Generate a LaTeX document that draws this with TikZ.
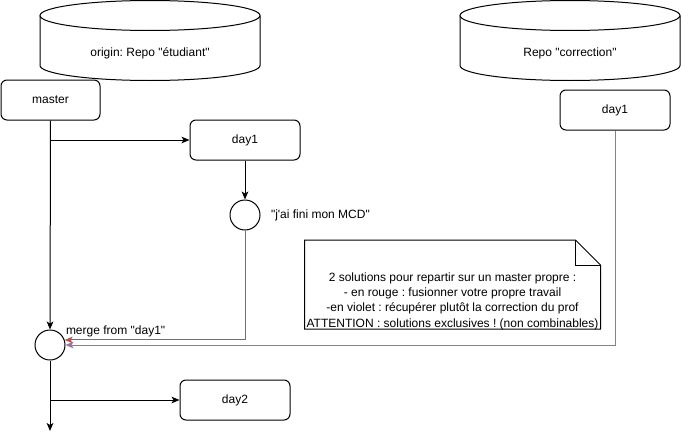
\documentclass[tikz,border=0pt]{standalone}
\usepackage{fontspec}
\setmainfont{Liberation Sans}[Ligatures=TeXOff]
\usetikzlibrary{arrows.meta,positioning}
\frenchspacing

\definecolor{rouge}{HTML}{B85450}
\definecolor{violet}{HTML}{9673A6}

\tikzset{every picture/.style={line width=0.75pt}}
\tikzset{
  branch/.style={draw, rounded corners=4.5pt, minimum width=82.5pt, minimum height=30pt, inner sep=0pt},
  commit/.style={draw, circle, minimum size=22.5pt, inner sep=0pt},
  flow/.style={-{Stealth[length=6pt,width=5pt,inset=1.5pt]}},
  txt/.style={inner sep=0.75pt, font=\fontsize{9}{11.5}\selectfont},
}

\begin{document}
\begin{tikzpicture}[x=0.75pt,y=0.75pt,yscale=-1,xscale=1, font=\fontsize{9}{11.5}\selectfont]
        \useasboundingbox (0,0) rectangle (681,439);

        %Shape: Can [id:repo_etudiant]
        \draw   (40,15.5) -- (40,65.5) arc[start angle=180, end angle=0, x radius=110, y radius=15] -- (260,15.5) ;
        \draw   (150,15.5) ellipse [x radius=110, y radius=15] ;
        %Shape: Can [id:repo_correction]
        \draw   (460,15.5) -- (460,65.5) arc[start angle=180, end angle=0, x radius=110, y radius=15] -- (680,15.5) ;
        \draw   (570,15.5) ellipse [x radius=110, y radius=15] ;

        % Text Node
        \node[txt] (origin) at (150,53) {origin: Repo "étudiant"};
        % Text Node
        \node[txt] (correction) at (570,53) {Repo "correction"};

        %Shape: Rounded Rect
        \node[branch, minimum width=74.25pt] (master) at (50.5,100) {master};
        \node[branch] (day1) at (245,140) {day1};
        \node[branch] (day1c) at (615,110) {day1};
        \node[branch] (day2) at (235,400) {day2};

        %Shape: Circle
        \node[commit] (mcd) at (245,215) {};
        \node[commit] (merge) at (50,345) {};
        \coordinate (end) at (50,431);

        % Text Node
        \node[txt, anchor=west] (mcdlabel) at (269.5,215) {"j'ai fini mon MCD"};
        % Text Node
        \node[txt, anchor=west] (mergelabel) at (64.5,331) {merge from "day1"};

        %Shape: Note
        \draw   (304.5,240) -- (575.5,240) -- (600.5,265) -- (600.5,329) -- (304.5,329) -- cycle ;
        \draw   (575.5,240) -- (575.5,265) -- (600.5,265) ;
        % Text Node
        \node[txt, align=center] (note) at (452.5,301) {2 solutions pour repartir sur un master propre :\\- en rouge : fusionner votre propre travail\\-en violet : récupérer plutôt la correction du prof\\ATTENTION : solutions exclusives ! (non combinables)};

        %Straight Lines
        \draw[flow] (master.south) -- (merge.north);
        \draw[flow] (master.south |- day1.west) -- (day1.west);
        \draw[flow] (day1.south) -- (mcd.north);
        \draw[flow] (merge.south) -- (end);
        \draw[flow] (merge.south |- day2.west) -- (day2.west);
        \draw[flow, rouge] (mcd.south) |- (merge.19.5);
        \draw[flow, violet] (day1c.south) |- (merge.east);
\end{tikzpicture}
\end{document}
